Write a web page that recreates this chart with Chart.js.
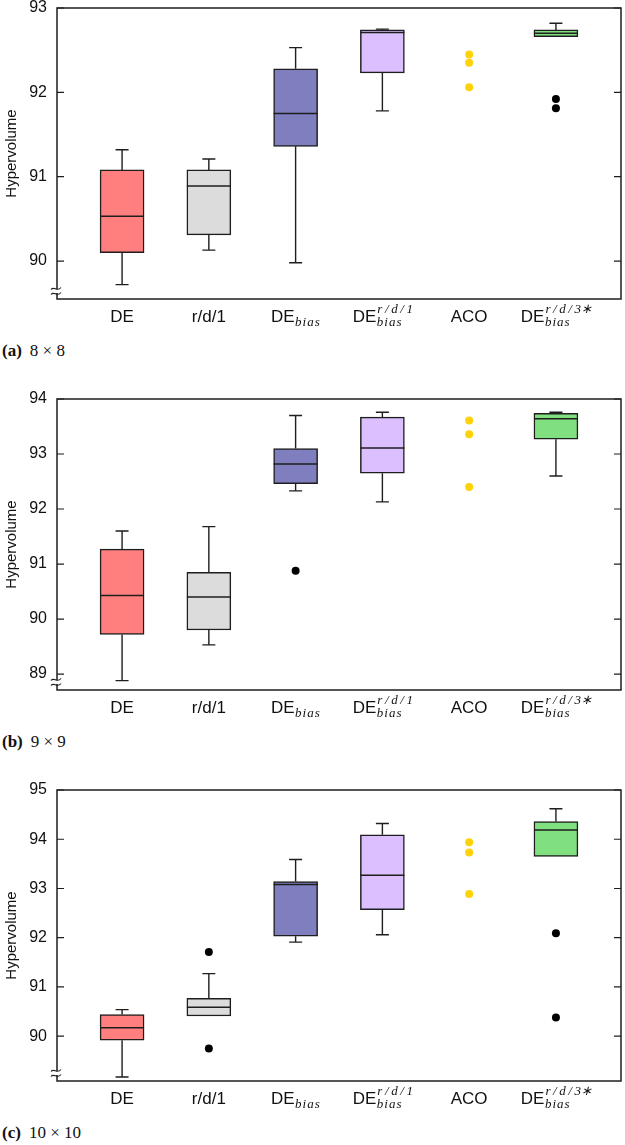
<!DOCTYPE html>
<html>
<head>
<meta charset="utf-8">
<script src="https://cdn.jsdelivr.net/npm/chart.js@4.4.1/dist/chart.umd.min.js"></script>
<style>
  body { margin: 0; background: #fff; width: 625px; height: 1145px; overflow: hidden; }
  .panel { position: relative; width: 625px; height: 391px; }
  .panel canvas { position: absolute; left: 0; top: 0; }
  .cap { position: absolute; left: 2px; top: 341px; font: 17px 'Liberation Serif', serif; color: #111; }
  .cap b { margin-right: 8px; }
</style>
</head>
<body>
<div class="panel"><canvas id="chartA" width="625" height="335"></canvas><div class="cap"><b>(a)</b>8 × 8</div></div>
<div class="panel"><canvas id="chartB" width="625" height="335"></canvas><div class="cap"><b>(b)</b>9 × 9</div></div>
<div class="panel"><canvas id="chartC" width="625" height="335"></canvas><div class="cap"><b>(c)</b>10 × 10</div></div>

<script>
// categories: [main text, subscript, superscript]
var categories = [
  ['DE', '', ''],
  ['r/d/1', '', ''],
  ['DE', 'bias', ''],
  ['DE', 'bias', 'r\u2009/\u2009d\u2009/\u20091'],
  ['ACO', '', ''],
  ['DE', 'bias', 'r\u2009/\u2009d\u2009/\u20093\u2217']
]
var boxColors = ['#ff7f7f', '#dcdcdc', '#7f7fbf', '#dcbfff', null, '#80e080']

// (a) 8x8
var lowA  = [89.72, 90.13, 89.98, 91.78, null, 92.66]
var q1A   = [90.10, 90.31, 91.36, 92.23, null, 92.66]
var medA  = [90.53, 90.89, 91.75, 92.71, null, 92.70]
var q3A   = [91.08, 91.08, 92.28, 92.74, null, 92.74]
var highA = [91.32, 91.21, 92.53, 92.75, null, 92.82]
var outA  = [[], [], [], [], [], [91.92, 91.81]]
var acoA  = [92.45, 92.35, 92.06]
var ticksA = [90, 91, 92, 93]

// (b) 9x9
var lowB  = [88.88, 89.53, 92.33, 92.13, null, 92.60]
var q1B   = [89.72, 89.80, 92.46, 92.65, null, 93.27]
var medB  = [90.43, 90.40, 92.82, 93.11, null, 93.64]
var q3B   = [91.27, 90.85, 93.10, 93.67, null, 93.74]
var highB = [91.60, 91.68, 93.70, 93.76, null, 93.76]
var outB  = [[], [], [90.88], [], [], []]
var acoB  = [93.61, 93.36, 92.40]
var ticksB = [89, 90, 91, 92, 93, 94]

// (c) 10x10
var lowC  = [89.17, 90.41, 91.91, 92.06, null, 93.65]
var q1C   = [89.92, 90.41, 92.03, 92.57, null, 93.65]
var medC  = [90.17, 90.59, 93.08, 93.27, null, 94.19]
var q3C   = [90.44, 90.77, 93.14, 94.09, null, 94.36]
var highC = [90.54, 91.27, 93.59, 94.32, null, 94.62]
var outC  = [[], [91.71, 89.75], [], [], [], [92.09, 90.38]]
var acoC  = [93.94, 93.73, 92.89]
var ticksC = [90, 91, 92, 93, 94, 95]

var INK = '#1e1e1e'

function drawCatLabel(ctx, cx, cy, parts) {
  var mainFont = '17px "Liberation Sans", Arial, sans-serif'
  var smallFont = 'italic 13px "Liberation Serif", serif'
  ctx.font = mainFont
  var wm = ctx.measureText(parts[0]).width
  ctx.font = smallFont
  ctx.letterSpacing = '1px'
  var ws = parts[1] ? ctx.measureText(parts[1]).width : 0
  ctx.letterSpacing = '0px'
  var wp = parts[2] ? ctx.measureText(parts[2]).width : 0
  var x0 = cx - (wm + Math.max(ws, wp)) / 2
  var base = cy + 6
  ctx.textAlign = 'left'
  ctx.textBaseline = 'alphabetic'
  ctx.font = mainFont
  ctx.fillText(parts[0], x0, base)
  ctx.font = smallFont
  if (parts[1]) {
    ctx.letterSpacing = '1px'
    ctx.fillText(parts[1], x0 + wm + 0.5, base + 4)
    ctx.letterSpacing = '0px'
  }
  if (parts[2]) ctx.fillText(parts[2], x0 + wm + 1, base - 9)
}

var boxPlugin = {
  id: 'boxExtras',
  beforeDatasetsDraw: function (chart, args, o) {
    var ctx = chart.ctx, x = chart.scales.x, y = chart.scales.y
    ctx.save()
    ctx.strokeStyle = INK
    ctx.lineWidth = 1.4
    o.low.forEach(function (lo, i) {
      if (lo == null) return
      var px = x.getPixelForValue(i + 1)
      ;[[lo, o.q1[i]], [o.high[i], o.q3[i]]].forEach(function (p) {
        if (p[0] === p[1]) return
        var pe = y.getPixelForValue(p[0]), pb = y.getPixelForValue(p[1])
        ctx.beginPath()
        ctx.moveTo(px, pb); ctx.lineTo(px, pe)
        ctx.moveTo(px - 6.5, pe); ctx.lineTo(px + 6.5, pe)
        ctx.stroke()
      })
    })
    ctx.restore()
  },
  afterDatasetsDraw: function (chart, args, o) {
    var ctx = chart.ctx, x = chart.scales.x, y = chart.scales.y
    ctx.save()
    ctx.strokeStyle = INK
    ctx.lineWidth = 1.5
    o.med.forEach(function (m, i) {
      if (m == null) return
      var px = x.getPixelForValue(i + 1), py = y.getPixelForValue(m)
      ctx.beginPath()
      ctx.moveTo(px - 22, py); ctx.lineTo(px + 22, py)
      ctx.stroke()
    })
    ctx.restore()
  },
  afterDraw: function (chart, args, o) {
    var ctx = chart.ctx, a = chart.chartArea, x = chart.scales.x, y = chart.scales.y
    ctx.save()
    ctx.strokeStyle = INK
    ctx.lineWidth = 1.5
    ctx.strokeRect(a.left, a.top, a.right - a.left, a.bottom - a.top)
    ctx.lineWidth = 1.2
    o.yTicks.forEach(function (v) {
      var py = y.getPixelForValue(v)
      ctx.beginPath()
      ctx.moveTo(a.left, py); ctx.lineTo(a.left + 7, py)
      ctx.moveTo(a.right, py); ctx.lineTo(a.right - 7, py)
      ctx.stroke()
    })
    // axis break mark
    var bx = a.left, by = a.bottom - 8
    ctx.fillStyle = '#fff'
    ctx.fillRect(bx - 2, by - 2, 4, 4)
    ctx.lineWidth = 1.1
    ;[-2.5, 2.5].forEach(function (d) {
      var yy = by + d
      ctx.beginPath()
      ctx.moveTo(bx - 6, yy + 1)
      ctx.bezierCurveTo(bx - 3, yy - 3, bx, yy + 4, bx + 4, yy - 1)
      ctx.stroke()
    })
    ctx.fillStyle = '#111'
    categories.forEach(function (parts, i) {
      drawCatLabel(ctx, x.getPixelForValue(i + 1), a.bottom + 17, parts)
    })
    ctx.restore()
  }
}

function makeChart(id, low, q1, med, q3, high, outs, aco, yTicks, yMin, yMax) {
  var idx = categories.map(function (c, i) { return i }).filter(function (i) { return q1[i] != null })
  var outPts = []
  outs.forEach(function (list, i) {
    list.forEach(function (v) { outPts.push({ x: i + 1, y: v }) })
  })
  return new Chart(document.getElementById(id), {
    type: 'bar',
    data: {
      datasets: [{
        type: 'bar',
        data: idx.map(function (i) { return { x: i + 1, y: [q1[i], q3[i]] } }),
        backgroundColor: idx.map(function (i) { return boxColors[i] }),
        borderColor: INK,
        borderWidth: 1.5,
        borderSkipped: false,
        barThickness: 44
      }, {
        type: 'scatter',
        data: outPts,
        pointRadius: 4,
        pointBackgroundColor: '#000',
        pointBorderWidth: 0
      }, {
        type: 'scatter',
        data: aco.map(function (v) { return { x: 5, y: v } }),
        pointRadius: 4,
        pointBackgroundColor: '#ffd20a',
        pointBorderWidth: 0
      }]
    },
    options: {
      responsive: false,
      animation: false,
      devicePixelRatio: 1,
      layout: { padding: { top: 8, right: 3, left: 0, bottom: 0 } },
      plugins: {
        legend: { display: false },
        tooltip: { enabled: false },
        boxExtras: { low: low, q1: q1, med: med, q3: q3, high: high, yTicks: yTicks }
      },
      scales: {
        x: {
          type: 'linear',
          offset: false,
          min: 0.25,
          max: 6.75,
          grid: { display: false, offset: false },
          border: { display: false },
          ticks: { display: false },
          afterFit: function (s) { s.height = 36; s.paddingLeft = 0; s.paddingRight = 0 }
        },
        y: {
          min: yMin,
          max: yMax,
          grid: { display: false, drawTicks: false },
          border: { display: false },
          afterBuildTicks: function (s) { s.ticks = yTicks.map(function (v) { return { value: v } }) },
          ticks: {
            padding: 10,
            color: '#111',
            font: { family: '"Liberation Sans", Arial, sans-serif', size: 16 }
          },
          title: {
            display: true,
            text: 'Hypervolume',
            color: '#111',
            padding: { top: 3, bottom: 0 },
            font: { family: '"Liberation Sans", Arial, sans-serif', size: 15 }
          },
          afterFit: function (s) { s.width = 57; s.paddingTop = 0; s.paddingBottom = 0 }
        }
      }
    },
    plugins: [boxPlugin]
  })
}

makeChart('chartA', lowA, q1A, medA, q3A, highA, outA, acoA, ticksA, 89.55, 93)
makeChart('chartB', lowB, q1B, medB, q3B, highB, outB, acoB, ticksB, 88.71, 94)
makeChart('chartC', lowC, q1C, medC, q3C, highC, outC, acoC, ticksC, 89.09, 95)
</script>
</body>
</html>
